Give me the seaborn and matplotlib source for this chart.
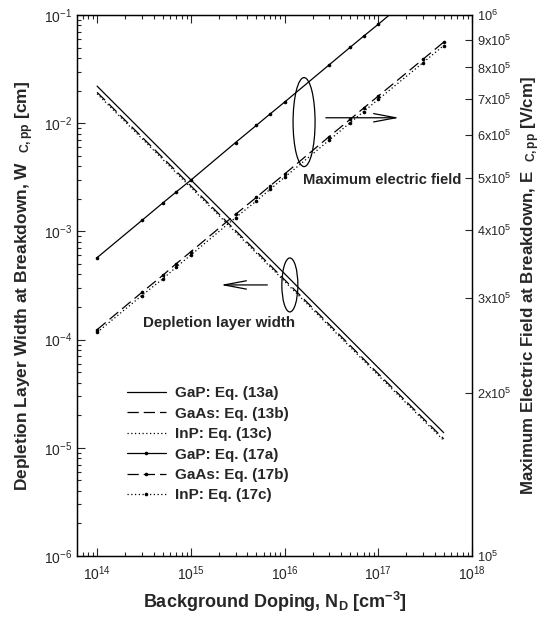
import numpy as np
import pandas as pd
import matplotlib
matplotlib.use("Agg")
import matplotlib.pyplot as plt
import seaborn as sns
from matplotlib.patches import Ellipse

# ---------------- data ----------------
N_w = [1e14, 1e15, 1e16, 1e17, 5e17]
W_GaP = [2.2e-2, 3.0e-3, 4.07e-4, 5.5e-5, 1.38e-5]
W_GaAs = [1.93e-2, 2.64e-3, 3.58e-4, 4.84e-5, 1.21e-5]
W_InP = [1.87e-2, 2.55e-3, 3.46e-4, 4.68e-5, 1.17e-5]

N_e = [1e14, 3e14, 5e14, 7e14, 1e15, 3e15, 5e15, 7e15, 1e16, 3e16, 5e16, 7e16,
       1e17, 3e17, 5e17]
E_GaP = [3.56e5, 4.17e5, 4.49e5, 4.71e5, 4.95e5, 5.81e5, 6.25e5, 6.56e5, 6.90e5,
         8.09e5, 8.71e5, 9.14e5, 9.61e5, 1.127e6, 1.213e6]
E_GaAs = [2.62e5, 3.07e5, 3.30e5, 3.47e5, 3.65e5, 4.28e5, 4.60e5, 4.83e5, 5.08e5,
          5.96e5, 6.41e5, 6.73e5, 7.08e5, 8.28e5, 8.91e5]
E_InP = [2.59e5, 3.03e5, 3.25e5, 3.42e5, 3.60e5, 4.22e5, 4.53e5, 4.76e5, 5.01e5,
         5.87e5, 6.32e5, 6.63e5, 6.98e5, 8.16e5, 8.78e5]

labels_w = ["GaP: Eq. (13a)", "GaAs: Eq. (13b)", "InP: Eq. (13c)"]
labels_e = ["GaP: Eq. (17a)", "GaAs: Eq. (17b)", "InP: Eq. (17c)"]

x_ticks = [1e14, 1e15, 1e16, 1e17, 1e18]
x_ticklabels = [r"10$^{14}$", r"10$^{15}$", r"10$^{16}$", r"10$^{17}$", r"10$^{18}$"]
yl_ticks = [1e-6, 1e-5, 1e-4, 1e-3, 1e-2, 1e-1]
yl_ticklabels = [r"10$^{-6}$", r"10$^{-5}$", r"10$^{-4}$", r"10$^{-3}$", r"10$^{-2}$", r"10$^{-1}$"]
yr_ticks = [1e5, 2e5, 3e5, 4e5, 5e5, 6e5, 7e5, 8e5, 9e5, 1e6]
yr_ticklabels = [r"10$^{5}$", r"2x10$^{5}$", r"3x10$^{5}$", r"4x10$^{5}$", r"5x10$^{5}$",
                 r"6x10$^{5}$", r"7x10$^{5}$", r"8x10$^{5}$", r"9x10$^{5}$", r"10$^{6}$"]

# ---------------- style ----------------
sns.set_style("ticks")
plt.rcParams["font.family"] = ["Liberation Sans", "DejaVu Sans"]
plt.rcParams["mathtext.fontset"] = "custom"
plt.rcParams["mathtext.rm"] = "Liberation Sans"
plt.rcParams["mathtext.bf"] = "Liberation Sans:bold"
plt.rcParams["mathtext.it"] = "Liberation Sans:italic"

fig = plt.figure(figsize=(5.44, 6.24), dpi=100)
ax = fig.add_axes([0.1415, 0.109, 0.726, 0.867])
ax2 = ax.twinx()

dfw = pd.DataFrame({"N": N_w, "GaP": W_GaP, "GaAs": W_GaAs, "InP": W_InP})
dfe = pd.DataFrame({"N": N_e, "GaP": E_GaP, "GaAs": E_GaAs, "InP": E_InP})

styles = [dict(linestyle="-"), dict(dashes=(9, 4)), dict(dashes=(1, 2))]
for col, lab, st in zip(["GaP", "GaAs", "InP"], labels_w, styles):
    sns.lineplot(data=dfw, x="N", y=col, ax=ax, color="black", lw=0.9,
                 label=lab, **st)
for col, lab, st in zip(["GaP", "GaAs", "InP"], labels_e, styles):
    sns.lineplot(data=dfe, x="N", y=col, ax=ax2, color="black", lw=0.9,
                 marker="o", markersize=2.6, markeredgewidth=0, label=lab, **st)

h1, l1 = ax.get_legend_handles_labels()
h2, l2 = ax2.get_legend_handles_labels()
for a in (ax, ax2):
    if a.get_legend() is not None:
        a.get_legend().remove()

ax.set_xscale("log")
ax.set_yscale("log")
ax2.set_yscale("log")
ax.set_xlim(6.1e13, 1e18)
ax.set_ylim(1e-6, 1e-1)
ax2.set_ylim(1e5, 1e6)

ax.set_xticks(x_ticks)
ax.set_xticklabels(x_ticklabels)
ax.set_yticks(yl_ticks)
ax.set_yticklabels(yl_ticklabels)
ax2.set_yticks(yr_ticks)
ax2.set_yticklabels(yr_ticklabels)
ax2.yaxis.set_minor_locator(matplotlib.ticker.NullLocator())

ax.tick_params(axis="x", which="both", direction="in", top=True, labelsize=10, pad=6)
ax.tick_params(axis="y", which="both", direction="in", labelsize=10)
ax.tick_params(which="major", length=6, width=0.8)
ax.tick_params(which="minor", length=3, width=0.8)
ax2.tick_params(axis="y", which="major", direction="in", length=5, width=0.8, labelsize=9.2)

ax.set_xlabel(r"Background Doping, N$_\mathbf{D}$ [cm$^\mathbf{-3}$]",
              fontsize=13, fontweight="bold", labelpad=5)
ax.set_ylabel(r"Depletion Layer Width at Breakdown, W  $_\mathbf{C,pp}$ [cm]",
              fontsize=12.5, fontweight="bold")
ax2.set_ylabel(r"Maximum Electric Field at Breakdown, E  $_\mathbf{C,pp}$ [V/cm]",
               fontsize=12.2, fontweight="bold")
ax.yaxis.set_label_coords(-0.105, 0.5)
ax2.yaxis.set_label_coords(1.12, 0.5)

for a in (ax, ax2):
    for s in a.spines.values():
        s.set_linewidth(0.9)
        s.set_color("black")

leg = ax2.legend(h1 + h2, l1 + l2, loc="upper left", bbox_to_anchor=(0.11, 0.325),
                 frameon=False, fontsize=11, handlelength=2.6, labelspacing=0.42,
                 handletextpad=0.6, borderaxespad=0)
for t in leg.get_texts():
    t.set_fontweight("bold")

# annotations
ax2.add_patch(Ellipse((0.575, 0.802), 0.0557, 0.1645, transform=ax.transAxes,
                      fill=False, lw=0.9, color="black"))
ax2.add_patch(Ellipse((0.539, 0.501), 0.0405, 0.0998, transform=ax.transAxes,
                      fill=False, lw=0.9, color="black"))
ax2.annotate("", xy=(0.823, 0.810), xytext=(0.623, 0.810), xycoords="axes fraction",
             arrowprops=dict(arrowstyle="->,head_length=1.6,head_width=0.3", lw=0.9, color="black"))
ax2.annotate("", xy=(0.357, 0.501), xytext=(0.489, 0.501), xycoords="axes fraction",
             arrowprops=dict(arrowstyle="->,head_length=1.6,head_width=0.3", lw=0.9, color="black"))
ax2.text(0.572, 0.695, "Maximum electric field", transform=ax.transAxes, fontsize=10.7,
         fontweight="bold", va="center", ha="left")
ax2.text(0.167, 0.431, "Depletion layer width", transform=ax.transAxes, fontsize=10.9,
         fontweight="bold", va="center", ha="left")

fig.savefig("out.png", dpi=100)
